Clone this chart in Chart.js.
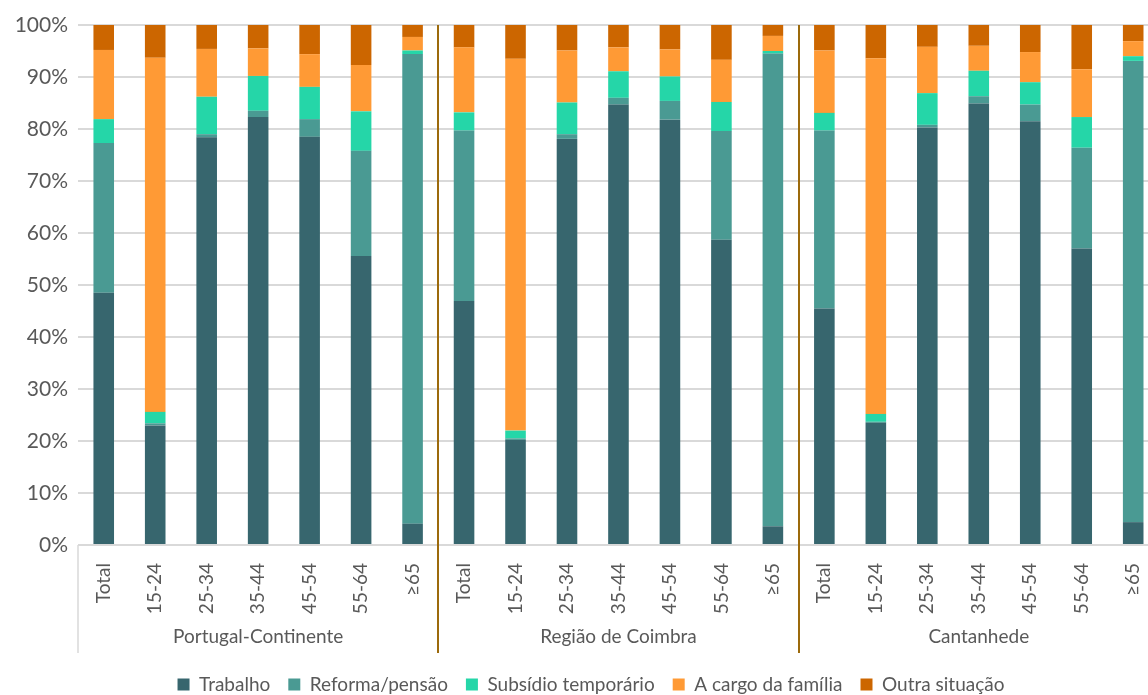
<!DOCTYPE html>
<html lang="pt">
<head>
<meta charset="UTF-8">
<title>Situação perante o trabalho</title>
<script src="https://cdn.jsdelivr.net/npm/chart.js"></script>
<style>
  body { margin: 0; background: #fff; overflow: hidden; }
  .wrap { position: relative; width: 1174px; height: 704px; }
</style>
</head>
<body>
<div class="wrap"><canvas id="chart"></canvas></div>
<script>
// faixas etárias (repetidas para cada território)
const ages = ['Total', '15-24', '25-34', '35-44', '45-54', '55-64', '≥65'];
const groups = ['Portugal-Continente', 'Região de Coimbra', 'Cantanhede'];
const categories = groups.flatMap(() => ages);

// valores em %
const trabalho = [48.5, 23.0, 78.4, 82.3, 78.5, 55.6, 4.1,
                  46.9, 20.2, 78.1, 84.7, 81.8, 58.7, 3.6,
                  45.5, 23.5, 80.3, 84.9, 81.5, 57.0, 4.4];
const reforma  = [28.8, 0.4, 0.6, 1.2, 3.4, 20.2, 90.3,
                  32.8, 0.3, 0.9, 1.3, 3.6, 20.9, 90.9,
                  34.2, 0.2, 0.5, 1.4, 3.2, 19.4, 88.7];
const subsidio = [4.6, 2.2, 7.2, 6.7, 6.2, 7.6, 0.7,
                  3.5, 1.5, 6.1, 5.1, 4.7, 5.6, 0.5,
                  3.4, 1.5, 6.1, 4.9, 4.3, 5.9, 0.9];
const cargo    = [13.3, 68.1, 9.2, 5.3, 6.3, 8.9, 2.6,
                  12.5, 71.5, 10.0, 4.6, 5.2, 8.1, 2.9,
                  12.0, 68.4, 8.9, 4.8, 5.8, 9.2, 2.9];
const outra    = [4.8, 6.3, 4.6, 4.5, 5.6, 7.7, 2.3,
                  4.3, 6.5, 4.9, 4.3, 4.7, 6.7, 2.1,
                  4.9, 6.4, 4.2, 4.0, 5.2, 8.5, 3.1];

const yTicks = [0, 10, 20, 30, 40, 50, 60, 70, 80, 90, 100];

const FONT = 'Lato, "Liberation Sans", sans-serif';
const GREY = '#595959';

function serie(label, data, color) {
    return { label: label, data: data, backgroundColor: color, borderWidth: 0,
             barPercentage: 0.4, categoryPercentage: 1 };
}

// linhas que separam os territórios
const separators = {
    id: 'separators',
    afterDatasetsDraw(chart) {
        const ctx = chart.ctx;
        const x = chart.scales.x;
        const x2 = chart.scales.x2;
        const area = chart.chartArea;
        const step = x.getPixelForValue(1) - x.getPixelForValue(0);
        ctx.save();
        ctx.strokeStyle = '#d9d9d9';
        ctx.lineWidth = 1.5;
        ctx.beginPath();
        ctx.moveTo(area.left, area.bottom);
        ctx.lineTo(area.left, x2.bottom - 4);
        ctx.stroke();
        ctx.strokeStyle = '#9c6a0c';
        ctx.lineWidth = 2;
        for (let g = 1; g < groups.length; g++) {
            const px = Math.round(x.getPixelForValue(g * ages.length) - step / 2);
            ctx.beginPath();
            ctx.moveTo(px, area.top);
            ctx.lineTo(px, x2.bottom - 4);
            ctx.stroke();
        }
        ctx.restore();
    }
};

new Chart(document.getElementById('chart'), {
    type: 'bar',
    data: {
        labels: categories,
        datasets: [
            serie('Trabalho', trabalho, '#37666e'),
            serie('Reforma/pensão', reforma, '#4a9a93'),
            serie('Subsídio temporário', subsidio, '#25d6a8'),
            serie('A cargo da família', cargo, '#ff9a35'),
            serie('Outra situação', outra, '#cc6600')
        ]
    },
    options: {
        responsive: true,
        maintainAspectRatio: false,
        animation: false,
        layout: { padding: { left: 8, top: 25, right: 0, bottom: 0 } },
        plugins: {
            tooltip: { enabled: false },
            legend: {
                position: 'bottom',
                labels: {
                    boxWidth: 12, boxHeight: 12, padding: 18,
                    color: GREY, font: { family: FONT, size: 19 }
                }
            }
        },
        scales: {
            x: {
                stacked: true,
                grid: { display: false, drawTicks: false },
                border: { display: false },
                afterFit(scale) { scale.height = 72; },
                ticks: {
                    autoSkip: false, minRotation: 90, maxRotation: 90, padding: 18,
                    color: GREY, font: { family: FONT, size: 19 }
                }
            },
            x2: {
                type: 'category',
                labels: groups,
                position: 'bottom',
                grid: { display: false, drawTicks: false },
                border: { display: false },
                afterFit(scale) { scale.height = 40; },
                ticks: { padding: 8, color: GREY, font: { family: FONT, size: 19 } }
            },
            y: {
                stacked: true,
                min: 0, max: 100,
                afterBuildTicks(scale) { scale.ticks = yTicks.map(v => ({ value: v })); },
                afterFit(scale) { scale.width = 70; },
                grid: { color: '#d9d9d9', lineWidth: 2, drawTicks: false },
                border: { display: false },
                ticks: {
                    padding: 10, color: GREY, font: { family: FONT, size: 21 },
                    callback: v => v + '%'
                }
            }
        }
    },
    plugins: [separators]
});
</script>
</body>
</html>
